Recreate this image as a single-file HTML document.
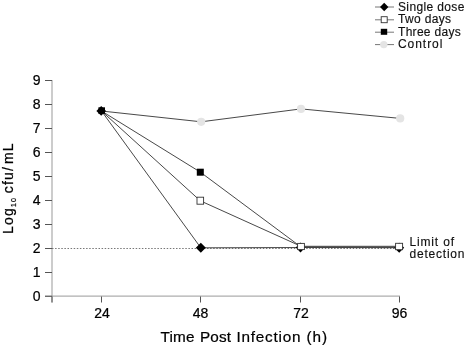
<!DOCTYPE html>
<html><head><meta charset="utf-8">
<style>
html,body{margin:0;padding:0;background:#fff;}
body{width:466px;height:346px;overflow:hidden;}
svg{display:block;}
text{font-family:"Liberation Sans",sans-serif;fill:#000;stroke:#000;stroke-width:0.22px;}
.lg text{stroke-width:0.15px;fill:#111;stroke:#111;}
</style></head>
<body>
<svg width="466" height="346" viewBox="0 0 466 346" xmlns="http://www.w3.org/2000/svg">
<rect width="466" height="346" fill="#fff"/>
<!-- axes -->
<g stroke="#999" stroke-width="1" fill="none">
  <path d="M52 80V302.5"/>
  <path d="M45 296.1H400"/>
</g>
<g stroke="#555" stroke-width="1" fill="none">
  <path d="M45 80.5H52M45 104.5H52M45 128.5H52M45 152.5H52M45 176.5H52M45 200.5H52M45 224.5H52M45 248.5H52M45 272.5H52M45 296.3H52"/>
  <path d="M52 296.5V302.5M101.5 296.5V302.5M200.5 296.5V302.5M300.5 296.5V302.5M399.5 296.5V302.5"/>
</g>
<!-- limit of detection dotted -->
<path d="M52 248.5H400" stroke="#777" stroke-width="1" stroke-dasharray="1.5 1.6" fill="none"/>
<!-- y tick labels -->
<g font-size="14" text-anchor="end">
  <text x="40.5" y="85.2">9</text>
  <text x="40.5" y="109.2">8</text>
  <text x="40.5" y="133.2">7</text>
  <text x="40.5" y="157.2">6</text>
  <text x="40.5" y="181.2">5</text>
  <text x="40.5" y="205.2">4</text>
  <text x="40.5" y="229.2">3</text>
  <text x="40.5" y="253.2">2</text>
  <text x="40.5" y="277.2">1</text>
  <text x="40.5" y="301.2">0</text>
</g>
<!-- x tick labels -->
<g font-size="14" text-anchor="middle">
  <text x="102" y="318">24</text>
  <text x="200.5" y="318">48</text>
  <text x="301" y="318">72</text>
  <text x="399.5" y="318">96</text>
</g>
<!-- axis titles -->
<g font-size="15.3">
  <text x="160.4" y="342" textLength="34.2" lengthAdjust="spacing">Time</text>
  <text x="200" y="342" textLength="31" lengthAdjust="spacing">Post</text>
  <text x="236.5" y="342" textLength="64" lengthAdjust="spacing">Infection</text>
  <text x="306.5" y="342" textLength="20.5" lengthAdjust="spacing">(h)</text>
</g>
<text transform="translate(13.3 234) rotate(-90)" font-size="14" letter-spacing="1.2">Log<tspan font-size="7" dy="2.5">10</tspan><tspan dy="-2.5" dx="-1.5"> cfu/</tspan><tspan dx="1.8">mL</tspan></text>
<!-- data lines -->
<g stroke="#333" stroke-width="0.9" fill="none">
  <polyline points="101.5,111 201.2,121.8 301,108.9 400.2,118.4"/>
  <polyline points="101.5,111 200.3,172.1 301,247 399.5,247.2"/>
  <polyline points="101.5,111 200.3,200.8 301,246.3 399,246.3"/>
  <polyline points="101.5,111 200.8,247.8 300.5,247.5 399.2,247.7"/>
</g>
<!-- markers at 24h -->
<rect x="98.4" y="107.3" width="6.6" height="6.5" fill="#000"/>
<path d="M101.2 106L106 110.9L101.2 115.8L96.4 110.9Z" fill="#000"/>
<!-- control circles -->
<g fill="#e4e4e4">
  <circle cx="201.2" cy="121.8" r="4.1"/>
  <circle cx="301" cy="108.9" r="4.1"/>
  <circle cx="400.2" cy="118.4" r="4.1"/>
</g>
<!-- three days -->
<rect x="196.8" y="168.7" width="7" height="7" fill="#000"/>
<!-- two days -->
<rect x="197" y="197.2" width="6.6" height="7" fill="#fff" stroke="#333" stroke-width="0.9"/>
<!-- single dose -->
<path d="M200.8 242.8L205.8 247.8L200.8 252.8L195.8 247.8Z" fill="#000"/>
<!-- 72 -->
<path d="M300.5 242.5L305.3 247.5L300.5 252.5L295.7 247.5Z" fill="#000"/>
<rect x="297.6" y="243.4" width="6.8" height="6.2" fill="#fff" stroke="#333" stroke-width="0.9"/>
<!-- 96 -->
<path d="M399.2 242.7L404.2 247.7L399.2 252.7L394.2 247.7Z" fill="#000"/>
<rect x="395.6" y="243.3" width="7" height="6.4" fill="#fff" stroke="#333" stroke-width="0.9"/>
<!-- limit text -->
<g class="lg" font-size="12">
  <text x="409.5" y="245.7" textLength="44.5" lengthAdjust="spacing">Limit of</text>
  <text x="409.5" y="258.1" textLength="55" lengthAdjust="spacing">detection</text>
</g>
<!-- legend -->
<g stroke="#777" stroke-width="1" fill="none">
  <path d="M375 7H394M375 19.8H394M375 32.2H394M375 44.6H394"/>
</g>
<path d="M384.2 2.8L388.4 7L384.2 11.2L380 7Z" fill="#000"/>
<rect x="381.2" y="16.7" width="6" height="6" fill="#fff" stroke="#333" stroke-width="0.9"/>
<rect x="380.8" y="28.8" width="6.4" height="6" fill="#000"/>
<circle cx="383.8" cy="44.6" r="3.7" fill="#e4e4e4"/>
<g class="lg" font-size="12">
  <text x="398" y="11.2" textLength="66.4" lengthAdjust="spacing">Single dose</text>
  <text x="398" y="23.4" textLength="53.1" lengthAdjust="spacing">Two days</text>
  <text x="398" y="35.8" textLength="62.7" lengthAdjust="spacing">Three days</text>
  <text x="398" y="48.2" textLength="44.4" lengthAdjust="spacing">Control</text>
</g>
</svg>
</body></html>
